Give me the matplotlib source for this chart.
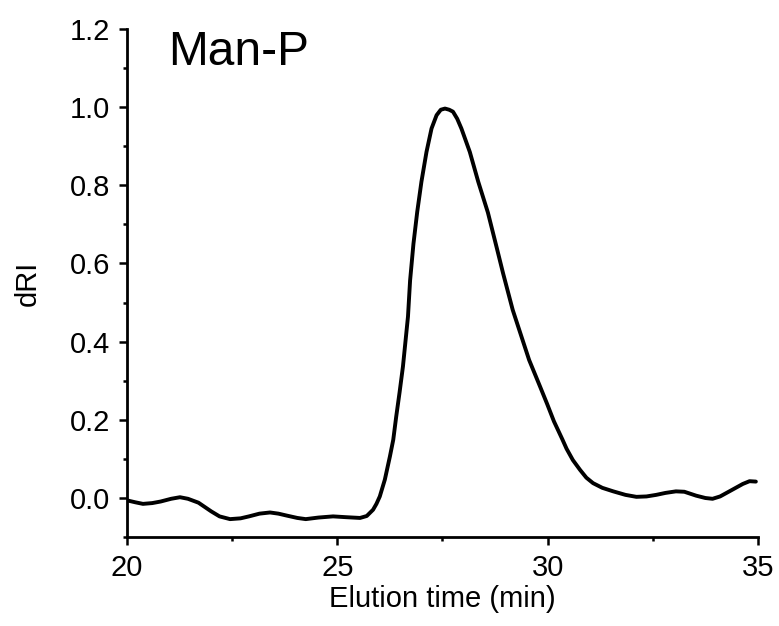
import matplotlib
matplotlib.use("Agg")
import matplotlib.pyplot as plt
from matplotlib.ticker import MultipleLocator

plt.rcParams['font.family'] = ['Liberation Sans', 'DejaVu Sans']

# elution time (min) and detector response
time_min = [20.0, 20.2, 20.38, 20.6, 20.8, 21.05, 21.26, 21.45, 21.7, 22.0,
            22.2, 22.45, 22.7, 22.9, 23.15, 23.4, 23.6, 23.8, 24.05, 24.25,
            24.55, 24.9, 25.2, 25.54, 25.7, 25.85, 25.93, 26.01, 26.13, 26.25,
            26.33, 26.4, 26.48, 26.56, 26.68, 26.73, 26.81, 26.9, 27.0, 27.12,
            27.24, 27.36, 27.46, 27.56, 27.66, 27.75, 27.85, 27.95, 28.15, 28.35,
            28.58, 28.79, 28.94, 29.17, 29.56, 29.82, 29.99, 30.15, 30.35, 30.45,
            30.6, 30.77, 30.92, 31.08, 31.3, 31.56, 31.85, 32.11, 32.35, 32.58,
            32.8, 33.05, 33.25, 33.53, 33.75, 33.92, 34.1, 34.32, 34.64, 34.8,
            34.95]
dri = [-0.006, -0.011, -0.015, -0.013, -0.009, -0.002, 0.002, -0.002, -0.012, -0.034,
       -0.047, -0.054, -0.052, -0.047, -0.040, -0.037, -0.040, -0.045, -0.051, -0.054,
       -0.050, -0.047, -0.049, -0.051, -0.046, -0.030, -0.015, 0.004, 0.047, 0.106,
       0.149, 0.208, 0.270, 0.336, 0.464, 0.556, 0.650, 0.732, 0.809, 0.885,
       0.945, 0.979, 0.993, 0.996, 0.993, 0.988, 0.970, 0.945, 0.885, 0.809,
       0.730, 0.640, 0.575, 0.481, 0.353, 0.285, 0.240, 0.196, 0.150, 0.126,
       0.097, 0.072, 0.052, 0.038, 0.026, 0.017, 0.008, 0.003, 0.004, 0.008,
       0.013, 0.017, 0.016, 0.006, 0.000, -0.002, 0.004, 0.017, 0.036, 0.043,
       0.042]

fig = plt.figure(figsize=(7.79, 6.26), dpi=100)
ax = fig.add_axes([0.163, 0.142, 0.81, 0.812])
ax.plot(time_min, dri, color='black', linewidth=2.8,
        solid_joinstyle='round', solid_capstyle='round')

ax.set_xlim(20, 35)
ax.set_ylim(-0.1, 1.2)
ax.xaxis.set_major_locator(MultipleLocator(5))
ax.xaxis.set_minor_locator(MultipleLocator(2.5))
ax.yaxis.set_major_locator(MultipleLocator(0.2))
ax.yaxis.set_minor_locator(MultipleLocator(0.1))
ax.yaxis.set_major_formatter(plt.FormatStrFormatter('%.1f'))

for side in ['top', 'right']:
    ax.spines[side].set_visible(False)
for side in ['left', 'bottom']:
    ax.spines[side].set_linewidth(2.0)

ax.tick_params(which='major', direction='out', length=6, width=1.8, labelsize=21, pad=6)
ax.tick_params(which='minor', direction='out', length=3, width=1.8)

ax.set_xlabel("Elution time (min)", fontsize=21, labelpad=2)
ax.set_ylabel("dRI", fontsize=21, labelpad=20)
ax.text(0.065, 0.929, "Man-P", transform=ax.transAxes, fontsize=34.5,
        ha='left', va='baseline')

fig.savefig("out.png", dpi=100)
